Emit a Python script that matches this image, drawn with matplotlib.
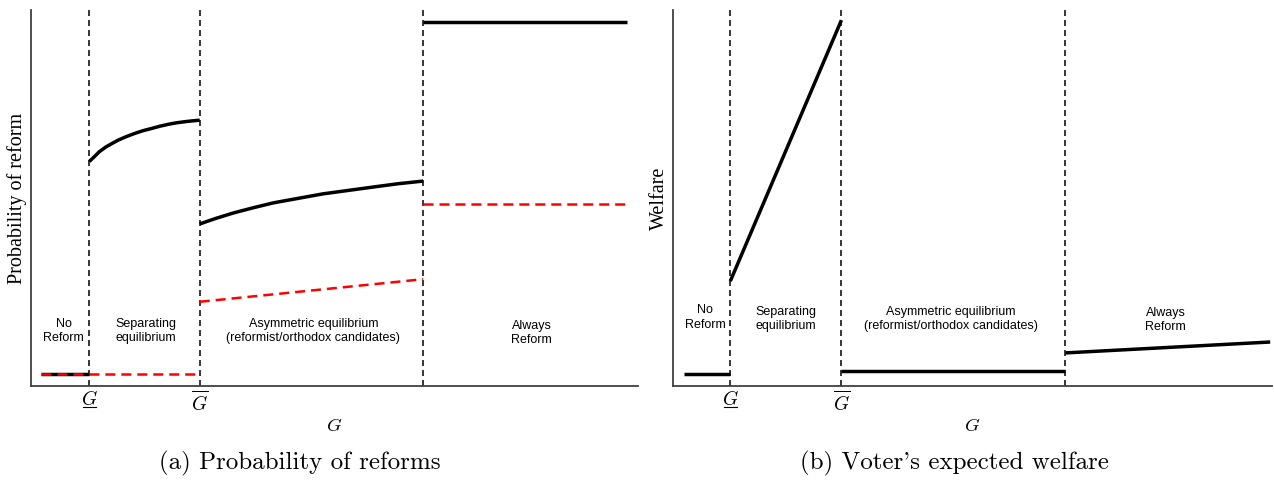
import matplotlib
matplotlib.use("Agg")
import matplotlib.pyplot as plt
from matplotlib.transforms import blended_transform_factory

plt.rcParams['mathtext.fontset'] = 'cm'
plt.rcParams['lines.scale_dashes'] = False

# regime thresholds on the G axis
G_low, G_high = 9.6, 27.8
G_top_a, G_top_b = 64.6, 65.7
G_high_b = 28.2

# (a) probability of reform
no_ref_x = [1.6, G_low]
no_ref_black = [0.032, 0.032]
sep_x = [9.6, 10.38, 11.25, 12.36, 13.46, 14.38, 15.65, 17.13, 18.45,
         19.88, 21.25, 22.62, 23.97, 25.37, 26.52, 27.8]
sep_black = [0.597, 0.609, 0.623, 0.636, 0.646, 0.654, 0.663, 0.672, 0.679,
             0.685, 0.691, 0.696, 0.700, 0.703, 0.705, 0.707]
asym_x = [27.8, 30.5, 33.3, 36.6, 39.9, 44.0, 48.1, 52.2, 56.3, 60.5, 64.6]
asym_black = [0.431, 0.446, 0.460, 0.474, 0.487, 0.499, 0.511, 0.520,
              0.529, 0.538, 0.545]
always_x = [G_top_a, 98.2]
always_black = [0.968, 0.968]

red_low_x = [1.6, G_high]
red_low = [0.032, 0.032]
red_asym_x = [G_high, G_top_a]
red_asym = [0.224, 0.284]
red_always_x = [G_top_a, 98.2]
red_always = [0.484, 0.484]

# (b) voter's expected welfare
w_no_x = [1.8, G_low]
w_no = [0.032, 0.032]
w_sep_x = [G_low, G_high_b]
w_sep = [0.279, 0.973]
w_asym_x = [G_high_b, G_top_b]
w_asym = [0.040, 0.040]
w_always_x = [G_top_b, 100.0]
w_always = [0.088, 0.117]

regions = ["No\nReform", "Separating\nequilibrium",
           "Asymmetric equilibrium\n(reformist/orthodox candidates)",
           "Always\nReform"]
label_x = [5.4, 18.9, 46.5, 82.5]

fig = plt.figure(figsize=(12.74, 4.86), dpi=100)
ax1 = fig.add_axes([31 / 1274, 100 / 486, 607 / 1274, 376 / 486])
ax2 = fig.add_axes([673 / 1274, 100 / 486, 599 / 1274, 376 / 486])

blk = dict(color='black', lw=2.5, solid_capstyle='butt', solid_joinstyle='round')
red = dict(color='#ff0000', lw=1.8, dashes=(7.2, 4.3))

ax1.plot(no_ref_x, no_ref_black, **blk)
ax1.plot(sep_x, sep_black, **blk)
ax1.plot(asym_x, asym_black, **blk)
ax1.plot(always_x, always_black, **blk)
ax1.plot(red_low_x, red_low, **red)
ax1.plot(red_asym_x, red_asym, **red)
ax1.plot(red_always_x, red_always, **red)

ax2.plot(w_no_x, w_no, **blk)
ax2.plot(w_sep_x, w_sep, **blk)
ax2.plot(w_asym_x, w_asym, **blk)
ax2.plot(w_always_x, w_always, **blk)

panels = [(ax1, (G_low, G_high, G_top_a), [0.146, 0.146, 0.146, 0.140],
           "Probability of reform"),
          (ax2, (G_low, G_high_b, G_top_b), [0.182, 0.178, 0.178, 0.175],
           "Welfare")]
for ax, cuts, ly, lab in panels:
    ax.set_ylim(0, 1)
    for g in cuts:
        ax.axvline(g, color='black', lw=1.1, dashes=(4.3, 2.9), zorder=0)
    for x, y, t in zip(label_x, ly, regions):
        ax.text(x, y, t, ha='center', va='center', fontsize=9,
                family='Liberation Sans', linespacing=1.25)
    ax.set_xticks(cuts[:2])
    ax.set_xticklabels([r'$G$', r'$\overline{G}$'], fontsize=14)
    ax.tick_params(length=0, pad=3)
    ax.set_yticks([])
    ax.set_xlabel('$G$', fontsize=13.5, labelpad=1)
    ax.set_ylabel(lab, family='Liberation Serif', fontsize=14.5, labelpad=3)
    for s in ('top', 'right'):
        ax.spines[s].set_visible(False)
    for s in ('left', 'bottom'):
        ax.spines[s].set_color('#404040')
        ax.spines[s].set_linewidth(1.3)
    # underline under the lower threshold label (mathtext has no \underline)
    tr = blended_transform_factory(ax.transData, ax.transAxes)
    ax.plot([G_low - 1.1, G_low + 1.1], [-0.057, -0.057], color='black',
            lw=0.8, transform=tr, clip_on=False)

ax1.set_xlim(0, 100)
ax2.set_xlim(0, 100.3)

fig.text(300 / 1274, 1 - 463 / 486, "(a) Probability of reforms",
         ha='center', va='center', fontsize=18, family='cmr10')
fig.text(954 / 1274, 1 - 463 / 486, "(b) Voter's expected welfare",
         ha='center', va='center', fontsize=18, family='cmr10')

fig.savefig('out.png', dpi=100)
